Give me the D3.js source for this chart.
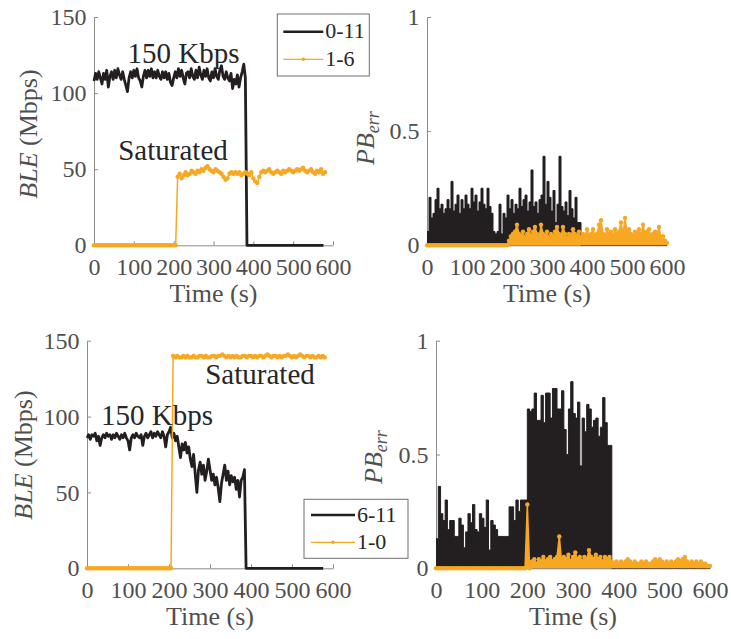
<!DOCTYPE html>
<html>
<head>
<meta charset="utf-8">
<script src="https://cdn.jsdelivr.net/npm/d3@7"></script>
</head>
<body style="margin:0">
<svg id="fig" width="731" height="639"></svg>
<script>
// ---------- axis ticks ----------
const timeTicks = [0, 100, 200, 300, 400, 500, 600];
const bleTicks = [0, 50, 100, 150];
const bleTickLabels = ["0", "50", "100", "150"];
const pbTicks = [0, 0.5, 1];
const pbTickLabels = ["0", "0.5", "1"];

// ---------- sampling steps (seconds) ----------
const bleBlackStep = 4;
const bleOrangeStep = 5;
const pbStep = 5;

// ---------- link 0-11 vs 1-6 : BLE (Mbps), 4 s samples from t = 0 ----------
const ble_0_11 = [
  108,113,109,114,110,106,113,109,115,104,
  111,114,109,115,110,116,112,109,114,109,
  105,101,110,114,110,115,111,116,110,108,
  104,111,115,110,115,111,116,110,114,110,
  115,111,109,114,110,114,109,113,107,105,
  110,114,110,116,111,115,110,106,113,114,
  110,116,111,109,115,110,117,112,109,115,
  111,116,110,108,114,110,116,111,109,115,
  118,111,109,114,110,108,113,103,109,106,
  112,104,110,114,119,110,
  0,0,0,0,0,0,0,0,0,0,
  0,0,0,0,0,0,0,0,0,0,
  0,0,0,0,0,0,0,0,0,0,
  0,0,0,0,0,0,0,0,0,0,
  0,0,0,0,0,0,0,0,0
];
// BLE of 1-6, 5 s samples from t = 0
const ble_1_6 = [
  0,0,0,0,0,0,0,0,0,0,
  0,0,0,0,0,0,0,0,0,0,
  0,0,0,0,0,0,0,0,0,0,
  0,0,0,0,0,0,0,0,0,0,
  0,0,
  45,47,44,46,48,46,47,49,48,47,
  49,48,50,49,51,52,50,49,48,50,
  49,48,47,45,43,44,47,48,47,48,
  47,48,46,47,48,47,46,48,44,42,
  41,45,48,49,48,49,50,48,47,48,
  49,48,47,49,48,49,50,49,48,49,
  50,49,50,51,49,48,49,50,48,47,
  49,48,50,47,48
];
// PB_err of 0-11, 5 s samples from t = 0
const pb_0_11 = [
  0.06,0.21,0.12,0.14,0.20,0.25,0.16,0.18,0.14,0.16,
  0.20,0.16,0.28,0.15,0.18,0.22,0.14,0.20,0.16,0.22,
  0.18,0.16,0.25,0.19,0.22,0.15,0.19,0.25,0.18,0.16,
  0.25,0.17,0.14,0.06,0.05,0.06,0.18,0.05,0.14,0.12,
  0.22,0.16,0.20,0.14,0.18,0.16,0.25,0.17,0.20,0.22,
  0.15,0.19,0.33,0.17,0.19,0.14,0.20,0.22,0.39,0.18,
  0.28,0.21,0.15,0.24,0.10,0.18,0.39,0.17,0.15,0.19,
  0.13,0.24,0.16,0.12,0.21,0.10,0.10,
  0,0,0,0,0,0,0,0,0,0,
  0,0,0,0,0,0,0,0,0,0,
  0,0,0,0,0,0,0,0,0,0,
  0,0,0,0,0,0,0,0,0,0,
  0,0,0,0
];
// PB_err of 1-6, 5 s samples from t = 0
const pb_1_6 = [
  0,0,0,0,0,0,0,0,0,0,
  0,0,0,0,0,0,0,0,0,0,
  0,0,0,0,0,0,0,0,0,0,
  0,0,0,0,0,0,0,0,0,0,
  0,
  0.02,0.04,0.05,0.06,0.09,0.05,0.04,0.06,0.03,0.05,
  0.07,0.04,0.06,0.08,0.05,0.03,0.09,0.05,0.04,0.06,
  0.03,0.05,0.04,0.06,0.08,0.05,0.04,0.08,0.05,0.03,
  0.05,0.04,0.07,0.05,0.04,0.06,0.03,0.05,0.04,0.07,
  0.04,0.05,0.07,0.04,0.05,0.09,0.11,0.05,0.04,0.07,
  0.05,0.06,0.04,0.07,0.05,0.06,0.10,0.05,0.12,0.06,
  0.07,0.05,0.04,0.06,0.05,0.07,0.04,0.09,0.05,0.06,
  0.07,0.04,0.05,0.06,0.05,0.08,0.03,0.04,0.02,0.01
];

// ---------- link 6-11 vs 1-0 ----------
// BLE of 6-11, 4 s samples from t = 0
const ble_6_11 = [
  86,88,85,88,87,89,84,87,81,86,
  88,86,89,87,88,85,88,86,89,87,
  85,88,86,89,86,84,78,86,88,86,
  89,87,86,88,81,87,89,86,88,90,
  86,89,87,90,88,86,90,87,80,88,
  90,93,86,89,84,87,80,73,82,78,
  83,76,80,72,67,75,62,50,65,70,
  62,68,58,64,72,65,58,62,55,60,
  53,44,56,62,68,58,64,55,61,57,
  60,52,58,47,58,60,65,
  0,0,0,0,0,0,0,0,0,0,
  0,0,0,0,0,0,0,0,0,0,
  0,0,0,0,0,0,0,0,0,0,
  0,0,0,0,0,0,0,0,0,0,
  0,0,0,0,0,0,0,0
];
// BLE of 1-0, 5 s samples from t = 0
const ble_1_0 = [
  0,0,0,0,0,0,0,0,0,0,
  0,0,0,0,0,0,0,0,0,0,
  0,0,0,0,0,0,0,0,0,0,
  0,0,0,0,0,0,0,0,0,0,
  0,0,
  140,139,140,139,139,140,139,140,139,139,
  140,139,139,140,140,139,140,139,139,140,
  140,139,140,140,141,140,139,140,139,140,
  139,140,139,139,140,140,139,140,140,139,
  140,139,140,140,139,140,141,140,139,140,
  140,139,140,139,140,140,141,140,139,140,
  139,140,141,140,139,140,140,139,140,139,
  139,140,139,140,139
];
// PB_err of 6-11, 5 s samples from t = 0
const pb_6_11 = [
  0.13,0.36,0.24,0.21,0.30,0.17,0.21,0.21,0.14,0.14,
  0.22,0.19,0.09,0.16,0.24,0.20,0.28,0.17,0.16,0.24,
  0.22,0.18,0.30,0.08,0.21,0.19,0.17,0.14,0.14,0.14,
  0.14,0.14,0.27,0.27,0.21,0.30,0.25,0.30,0.30,0.30,
  0.70,0.69,0.70,0.77,0.65,0.65,0.76,0.64,0.77,0.77,
  0.66,0.79,0.79,0.70,0.70,0.78,0.61,0.50,0.70,0.82,
  0.68,0.66,0.73,0.45,0.66,0.60,0.72,0.70,0.62,0.65,
  0.66,0.58,0.62,0.75,0.64,0.54,0.54,
  0,0,0,0,0,0,0,0,0,0,
  0,0,0,0,0,0,0,0,0,0,
  0,0,0,0,0,0,0,0,0,0,
  0,0,0,0,0,0,0,0,0,0,
  0,0,0,0
];
// PB_err of 1-0, 5 s samples from t = 0
const pb_1_0 = [
  0,0,0,0,0,0,0,0,0,0,
  0,0,0,0,0,0,0,0,0,0,
  0,0,0,0,0,0,0,0,0,0,
  0,0,0,0,0,0,0,0,0,0,
  0.28,
  0.00,0.03,0.04,0.02,0.04,0.03,0.05,0.03,0.04,0.05,
  0.03,0.04,0.05,0.14,0.03,0.05,0.04,0.06,0.03,0.05,
  0.07,0.04,0.05,0.03,0.05,0.04,0.08,0.05,0.04,0.06,
  0.04,0.05,0.03,0.05,0.04,0.05,0.03,0.02,0.03,0.02,
  0.03,0.02,0.03,0.04,0.03,0.02,0.03,0.02,0.02,0.03,
  0.02,0.03,0.02,0.02,0.03,0.04,0.03,0.04,0.03,0.02,
  0.03,0.02,0.03,0.02,0.03,0.04,0.03,0.04,0.05,0.03,
  0.02,0.03,0.02,0.03,0.02,0.03,0.02,0.02,0.01,0.01
];

// ---------- styling ----------
const SERIF = "Liberation Serif";
const ORANGE = "#F7A823";
const BLACK = "#231F20";
const AXIS = "#8c8c8c";
const TICK_TEXT = "#4f4f4f";
const TEXT = "#262626";

const svg = d3.select("#fig");
const toPoints = (values, step) => values.map((v, i) => [i * step, v]);

function makePanel(cfg) {
  const g = svg.append("g");
  const x = d3.scaleLinear().domain([0, 600]).range([cfg.x0, cfg.x1]);
  const y = d3.scaleLinear().domain([0, cfg.ymax]).range([cfg.yBot, cfg.yTop]);

  const xAxis = d3.axisBottom(x).tickValues(timeTicks).tickFormat(d3.format("d"))
    .tickSizeInner(-4).tickSizeOuter(0).tickPadding(13);
  const yAxis = d3.axisLeft(y).tickValues(cfg.yTicks).tickFormat((d, i) => cfg.yLabels[i])
    .tickSizeInner(-4).tickSizeOuter(0).tickPadding(7.5);

  const gx = g.append("g").attr("transform", `translate(0,${cfg.yBot})`).call(xAxis);
  const gy = g.append("g").attr("transform", `translate(${cfg.x0},0)`).call(yAxis);
  [gx, gy].forEach(a => {
    a.attr("font-family", SERIF).attr("font-size", 24);
    a.select(".domain").attr("stroke", AXIS).attr("stroke-width", 1);
    a.selectAll(".tick line").attr("stroke", AXIS);
    a.selectAll(".tick text").attr("fill", TICK_TEXT)
      .attr("font-family", SERIF).attr("font-size", 24);
  });

  // x label
  g.append("text")
    .attr("x", (cfg.x0 + cfg.x1) / 2).attr("y", cfg.yBot + 57)
    .attr("text-anchor", "middle").attr("fill", TICK_TEXT)
    .attr("font-family", SERIF).attr("font-size", 26)
    .text("Time (s)");

  return { g, x, y };
}

function drawBlackLine(p, values, step, width) {
  const line = d3.line().x(d => p.x(d[0])).y(d => p.y(d[1]));
  p.g.append("path").datum(toPoints(values, step))
    .attr("d", line).attr("fill", "none").attr("stroke", BLACK)
    .attr("stroke-width", width).attr("stroke-linejoin", "round");
}

function drawBlackSteps(p, values, step) {
  const pts = toPoints(values, step);
  const area = d3.area().curve(d3.curveStepAfter)
    .x(d => p.x(d[0])).y0(p.y(0)).y1(d => p.y(d[1]));
  const line = d3.line().curve(d3.curveStepAfter).x(d => p.x(d[0])).y(d => p.y(d[1]));
  p.g.append("path").datum(pts).attr("d", area).attr("fill", BLACK);
  p.g.append("path").datum(pts).attr("d", line).attr("fill", "none")
    .attr("stroke", BLACK).attr("stroke-width", 1);
}

function drawOrange(p, values, step, filled) {
  const pts = toPoints(values, step);
  if (filled) {
    const area = d3.area().x(d => p.x(d[0])).y0(p.y(0)).y1(d => p.y(d[1]));
    p.g.append("path").datum(pts).attr("d", area).attr("fill", ORANGE);
  }
  const line = d3.line().x(d => p.x(d[0])).y(d => p.y(d[1]));
  p.g.append("path").datum(pts).attr("d", line).attr("fill", "none")
    .attr("stroke", ORANGE).attr("stroke-width", 1.5).attr("stroke-linejoin", "round");
  p.g.append("g").selectAll("circle").data(pts).join("circle")
    .attr("cx", d => p.x(d[0])).attr("cy", d => p.y(d[1])).attr("r", 2.2)
    .attr("fill", ORANGE);
}

function bleLabel(px, py) {
  const t = svg.append("text")
    .attr("transform", `translate(${px},${py}) rotate(-90)`)
    .attr("text-anchor", "middle").attr("fill", TICK_TEXT)
    .attr("font-family", SERIF).attr("font-size", 26);
  t.append("tspan").attr("font-style", "italic").text("BLE");
  t.append("tspan").text(" (Mbps)");
}

function pbLabel(px, py) {
  const t = svg.append("text")
    .attr("transform", `translate(${px},${py}) rotate(-90)`)
    .attr("text-anchor", "middle").attr("fill", TICK_TEXT)
    .attr("font-family", SERIF).attr("font-size", 26).attr("font-style", "italic");
  t.append("tspan").text("PB");
  t.append("tspan").attr("dy", 5).attr("font-size", 18).text("err");
}

function note(px, py, str) {
  svg.append("text").attr("x", px).attr("y", py).attr("text-anchor", "middle")
    .attr("fill", TEXT).attr("font-family", SERIF).attr("font-size", 29)
    .text(str);
}

function legend(cfg) {
  const g = svg.append("g");
  g.append("rect").attr("x", cfg.x).attr("y", cfg.y).attr("width", cfg.w).attr("height", cfg.h)
    .attr("fill", "#ffffff").attr("stroke", "#6f6f6f").attr("stroke-width", 1);
  cfg.items.forEach((it, i) => {
    const ly = cfg.y + cfg.first + i * cfg.gap;
    g.append("line").attr("x1", cfg.x + cfg.pad).attr("x2", cfg.x + cfg.pad + cfg.len)
      .attr("y1", ly).attr("y2", ly)
      .attr("stroke", it.color).attr("stroke-width", it.marker ? 1.2 : 2.6);
    if (it.marker) {
      g.append("circle").attr("cx", cfg.x + cfg.pad + cfg.len / 2).attr("cy", ly)
        .attr("r", 1.8).attr("fill", it.color);
    }
    g.append("text").attr("x", cfg.x + cfg.pad + cfg.len + 2).attr("y", ly + 6.5)
      .attr("fill", TEXT).attr("font-family", SERIF).attr("font-size", 22).text(it.label);
  });
}

// ---------- top row ----------
const pTL = makePanel({ x0: 94, x1: 333, yTop: 17, yBot: 245.3, ymax: 150, yTicks: bleTicks, yLabels: bleTickLabels });
drawBlackLine(pTL, ble_0_11, bleBlackStep, 2.8);
drawOrange(pTL, ble_1_6, bleOrangeStep, false);
bleLabel(36.5, 134);
note(183.5, 63, "150 Kbps");
note(173, 160, "Saturated");
legend({ x: 277.3, y: 14, w: 92, h: 62, first: 17.7, gap: 27.6, pad: 6, len: 40,
  items: [{ label: "0-11", color: BLACK }, { label: "1-6", color: ORANGE, marker: true }] });

const pTR = makePanel({ x0: 427, x1: 667, yTop: 17, yBot: 245.3, ymax: 1, yTicks: pbTicks, yLabels: pbTickLabels });
drawBlackSteps(pTR, pb_0_11, pbStep);
drawOrange(pTR, pb_1_6, pbStep, true);
pbLabel(374, 138);

// ---------- bottom row ----------
const pBL = makePanel({ x0: 87, x1: 333, yTop: 340.7, yBot: 568.3, ymax: 150, yTicks: bleTicks, yLabels: bleTickLabels });
drawBlackLine(pBL, ble_6_11, bleBlackStep, 2.8);
drawOrange(pBL, ble_1_0, bleOrangeStep, false);
bleLabel(31.7, 455);
note(260, 384, "Saturated");
note(157, 425, "150 Kbps");
legend({ x: 304, y: 499.3, w: 104, h: 59, first: 15.7, gap: 27.3, pad: 7, len: 44,
  items: [{ label: "6-11", color: BLACK }, { label: "1-0", color: ORANGE, marker: true }] });

const pBR = makePanel({ x0: 436, x1: 710, yTop: 340.7, yBot: 568.3, ymax: 1, yTicks: pbTicks, yLabels: pbTickLabels });
drawBlackSteps(pBR, pb_6_11, pbStep);
drawOrange(pBR, pb_1_0, pbStep, true);
pbLabel(382, 457);
</script>
</body>
</html>
